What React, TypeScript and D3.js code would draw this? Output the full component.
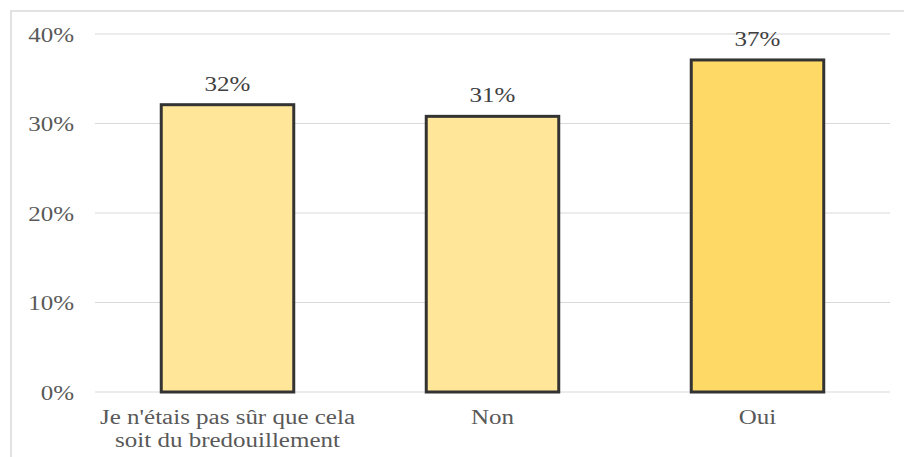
import React from "react";
import * as d3 from "d3";

const categories: string[][] = [
  ["Je n'étais pas sûr que cela", "soit du bredouillement"],
  ["Non"],
  ["Oui"],
];
const values: number[] = [0.321, 0.308, 0.371];
const labels: string[] = ["32%", "31%", "37%"];
const fills: string[] = ["#FFE699", "#FFE699", "#FFD966"];
const yTicks: number[] = [0, 0.1, 0.2, 0.3, 0.4];

const W = 904;
const H = 457;
const SX = 1.25;
const FONT = "'Liberation Serif', 'Times New Roman', serif";

export default function App() {
  const x = d3
    .scaleBand<number>()
    .domain(categories.map((_, i) => i))
    .range([95, 890])
    .paddingInner(0.5)
    .paddingOuter(0.25);
  const y = d3.scaleLinear().domain([0, 0.4]).range([392, 34]);
  const fmt = d3.format(".0%");

  return (
    <svg
      width={W}
      height={H}
      style={{ position: "absolute", left: 0, top: 0, display: "block", background: "#fff" }}
    >
      <rect x={11} y={11} width={W} height={H} fill="#fff" stroke="#d9d9d9" strokeWidth={1.5} />
      {yTicks.map((t) => (
        <g key={t}>
          <line x1={95} x2={890} y1={y(t)} y2={y(t)} stroke="#d9d9d9" strokeWidth={1} />
          <text
            transform={`translate(74,${y(t) + 7.5}) scale(${SX},1)`}
            textAnchor="end"
            fontFamily={FONT}
            fontSize={20}
            fill="#595959"
          >
            {fmt(t)}
          </text>
        </g>
      ))}
      {values.map((v, i) => {
        const bx = x(i)!;
        const bw = x.bandwidth();
        const cx = bx + bw / 2;
        return (
          <g key={i}>
            <rect
              x={bx}
              y={y(v)}
              width={bw}
              height={y(0) - y(v)}
              fill={fills[i]}
              stroke="#333333"
              strokeWidth={3}
            />
            <text
              transform={`translate(${cx},${y(v) - 14}) scale(${SX},1)`}
              textAnchor="middle"
              fontFamily={FONT}
              fontSize={20}
              fill="#404040"
            >
              {labels[i]}
            </text>
            {categories[i].map((line, j) => (
              <text
                key={j}
                transform={`translate(${cx},${424 + j * 23}) scale(${SX},1)`}
                textAnchor="middle"
                fontFamily={FONT}
                fontSize={20}
                fill="#595959"
              >
                {line}
              </text>
            ))}
          </g>
        );
      })}
    </svg>
  );
}
